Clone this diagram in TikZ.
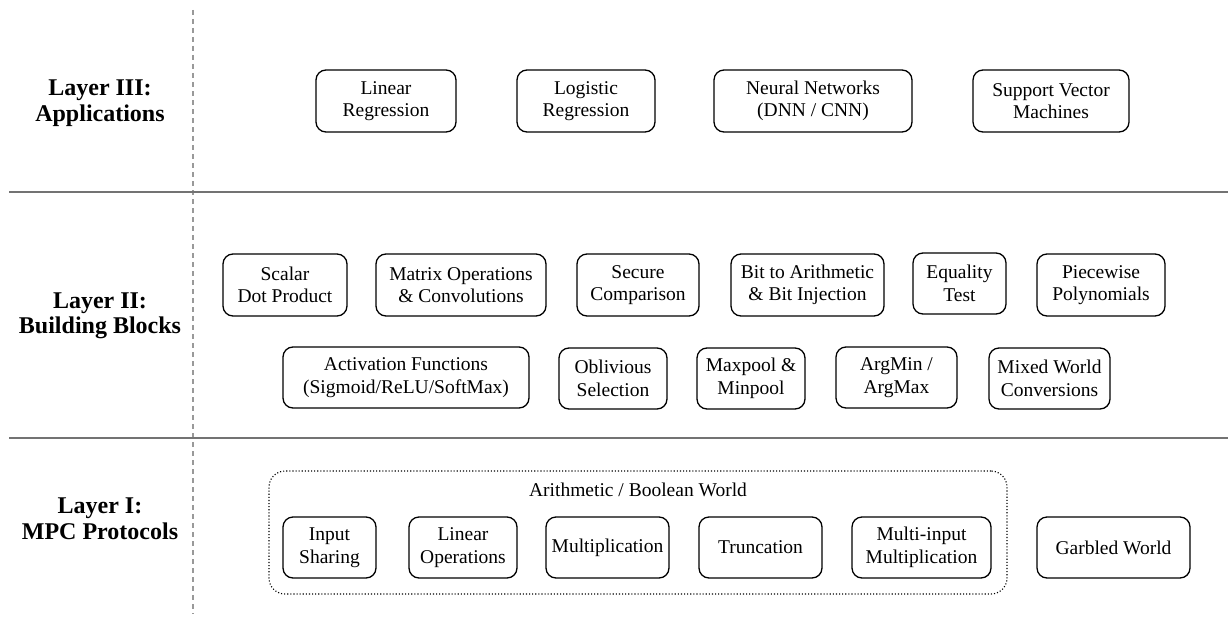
\documentclass[tikz,border=0pt]{standalone}
\usepackage{fontspec}
\setmainfont{LiberationSerif}[Extension=.ttf, UprightFont=*-Regular, BoldFont=*-Bold, ItalicFont=*-Italic, BoldItalicFont=*-BoldItalic]
\begin{document}
\begin{tikzpicture}[x=1pt,y=-1pt,
  box/.style={draw, rounded corners=10pt, line width=1.3pt, inner sep=0pt, align=center,
    font=\fontsize{19.5}{22.5}\selectfont},
  layerlbl/.style={align=center, font=\fontsize{24}{25.5}\selectfont\bfseries},
  sepline/.style={draw=black!55, line width=1.6pt},
  vline/.style={draw=black!40, line width=1.2pt, dash pattern=on 5pt off 4pt},
  container/.style={draw, dotted, line width=1.1pt, rounded corners=16pt, inner sep=0pt},
  ctitle/.style={font=\fontsize{19.5}{22.5}\selectfont}]
\useasboundingbox (0,0) rectangle (1228,618);
% separators
\coordinate (h1a) at (9,192); \coordinate (h1b) at (1228,192);
\coordinate (h2a) at (9,438); \coordinate (h2b) at (1228,438);
\coordinate (vt) at (193,10); \coordinate (vb) at (193,614);
\draw[vline] (vt) -- (vb);
\draw[sepline] (h1a) -- (h1b);
\draw[sepline] (h2a) -- (h2b);
% layer labels
\node[layerlbl] (l3) at (100,103) {Layer III:\\Applications};
\node[layerlbl] (l2) at (100,316) {Layer II:\\Building Blocks};
\node[layerlbl] (l1) at (100,519) {Layer I:\\MPC Protocols};
% Layer III
\node[box, minimum width=140, minimum height=62] (lr) at (386,101) {Linear\\Regression};
\node[box, minimum width=138, minimum height=62] (logr) at (586,101) {Logistic\\Regression};
\node[box, minimum width=198, minimum height=62] (nn) at (813,101) {Neural Networks\\(DNN / CNN)};
\node[box, minimum width=156, minimum height=62] (svm) at (1051,101) {Support Vector\\Machines};
% Layer II row 1
\node[box, minimum width=124, minimum height=62] (sdp) at (285,285) {Scalar\\Dot Product};
\node[box, minimum width=170, minimum height=62] (mat) at (461,285) {Matrix Operations\\\& Convolutions};
\node[box, minimum width=122, minimum height=62] (sec) at (638,285) {Secure\\Comparison};
\node[box, minimum width=153, minimum height=62] (b2a) at (807.5,285) {Bit to Arithmetic\\\& Bit Injection};
\node[box, minimum width=93, minimum height=61] (eq) at (959.5,283.5) {Equality\\Test};
\node[box, minimum width=128, minimum height=62] (pw) at (1101,285) {Piecewise\\Polynomials};
% Layer II row 2
\node[box, minimum width=246, minimum height=61] (act) at (406,377.5) {Activation Functions\\(Sigmoid/ReLU/SoftMax)};
\node[box, minimum width=108, minimum height=61] (obl) at (613,378.5) {Oblivious\\Selection};
\node[box, minimum width=108, minimum height=61] (mp) at (751,378.5) {Maxpool \&\\Minpool};
\node[box, minimum width=121, minimum height=61] (arg) at (896.5,377.5) {ArgMin /\\ArgMax};
\node[box, minimum width=121, minimum height=61] (mix) at (1049.5,378.5) {Mixed World\\Conversions};
% Layer I
\node[container, minimum width=738, minimum height=123] (abw) at (638,532.5) {};
\node[ctitle] (abwt) at (638,490) {Arithmetic / Boolean World};
\node[box, minimum width=93, minimum height=61] (is) at (329.5,547.5) {Input\\Sharing};
\node[box, minimum width=108, minimum height=61] (lo) at (463,547.5) {Linear\\Operations};
\node[box, minimum width=123, minimum height=61] (mul) at (607.5,547.5) {Multiplication};
\node[box, minimum width=123, minimum height=61] (tr) at (760.5,547.5) {Truncation};
\node[box, minimum width=139, minimum height=61] (mim) at (921.5,547.5) {Multi-input\\Multiplication};
\node[box, minimum width=153, minimum height=61] (gw) at (1113.5,547.5) {Garbled World};
\end{tikzpicture}
\end{document}
